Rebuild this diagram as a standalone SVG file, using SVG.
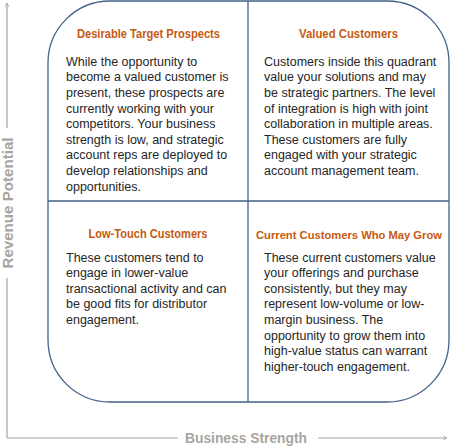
<svg xmlns="http://www.w3.org/2000/svg" width="450" height="446" viewBox="0 0 450 446">
<style>
.frame{fill:#ffffff;stroke:#44618a;stroke-width:1.3}
.div{stroke:#44618a;stroke-width:1.3;fill:none}
.title{font-family:"Liberation Sans",Arial,sans-serif;font-weight:bold;font-size:12px;fill:#c55a11;text-anchor:middle}
.body{font-family:"Liberation Sans",Arial,sans-serif;font-size:12.5px;fill:#262626}
.axis{stroke:#a9a49e;stroke-width:1.2;fill:none}
.axlabel{font-family:"Liberation Sans",Arial,sans-serif;font-weight:bold;font-size:14px;fill:#a9a49e;text-anchor:middle}
</style>
<defs>
<marker id="arr" viewBox="0 0 10 10" refX="9" refY="5" markerWidth="5" markerHeight="5" orient="auto" markerUnits="userSpaceOnUse">
<polyline points="1,1 9,5 1,9" fill="none" stroke="#a9a49e" stroke-width="1.5"/>
</marker>
</defs>
<g id="axes">
<line class="axis" x1="7" y1="438" x2="7" y2="278"/>
<line class="axis" x1="7" y1="128" x2="7" y2="3" marker-end="url(#arr)"/>
<line class="axis" x1="7" y1="438" x2="178" y2="438"/>
<line class="axis" x1="318" y1="438" x2="447" y2="438" marker-end="url(#arr)"/>
<text class="axlabel" x="246" y="443" textLength="122" lengthAdjust="spacingAndGlyphs">Business Strength</text>
<text class="axlabel" transform="translate(12.5,203) rotate(-90)" x="0" y="0" textLength="131" lengthAdjust="spacingAndGlyphs">Revenue Potential</text>
</g>
<g id="frame">
<path class="frame" d="M110,1 H387 A62,62 0 0 1 449,63 V340 A62,62 0 0 1 387,402 H110 A62,62 0 0 1 48,340 V63 A62,62 0 0 1 110,1 Z"/>
<line class="div" x1="248" y1="1" x2="248" y2="402"/>
<line class="div" x1="48" y1="201" x2="449" y2="201"/>
</g>
<g id="q1">
<text class="title" x="148.5" y="37.5" textLength="143" lengthAdjust="spacingAndGlyphs">Desirable Target Prospects</text>
<text class="body" x="66" y="65.7">While the opportunity to</text>
<text class="body" x="66" y="81.3">become a valued customer is</text>
<text class="body" x="66" y="96.9">present, these prospects are</text>
<text class="body" x="66" y="112.5">currently working with your</text>
<text class="body" x="66" y="128.1">competitors. Your business</text>
<text class="body" x="66" y="143.7">strength is low, and strategic</text>
<text class="body" x="66" y="159.3">account reps are deployed to</text>
<text class="body" x="66" y="174.9">develop relationships and</text>
<text class="body" x="66" y="190.5">opportunities.</text>
</g>
<g id="q2">
<text class="title" x="348.5" y="37.5" textLength="99" lengthAdjust="spacingAndGlyphs">Valued Customers</text>
<text class="body" x="264" y="65.7">Customers inside this quadrant</text>
<text class="body" x="264" y="81.3">value your solutions and may</text>
<text class="body" x="264" y="96.9">be strategic partners. The level</text>
<text class="body" x="264" y="112.5">of integration is high with joint</text>
<text class="body" x="264" y="128.1">collaboration in multiple areas.</text>
<text class="body" x="264" y="143.7">These customers are fully</text>
<text class="body" x="264" y="159.3">engaged with your strategic</text>
<text class="body" x="264" y="174.9">account management team.</text>
</g>
<g id="q3">
<text class="title" x="148" y="238" textLength="119" lengthAdjust="spacingAndGlyphs">Low-Touch Customers</text>
<text class="body" x="66" y="261.5">These customers tend to</text>
<text class="body" x="66" y="277.1">engage in lower-value</text>
<text class="body" x="66" y="292.7">transactional activity and can</text>
<text class="body" x="66" y="308.3">be good fits for distributor</text>
<text class="body" x="66" y="323.9">engagement.</text>
</g>
<g id="q4">
<text class="title" x="349" y="238.5" style="font-size:11.3px" textLength="186" lengthAdjust="spacingAndGlyphs">Current Customers Who May Grow</text>
<text class="body" x="264" y="261.5">These current customers value</text>
<text class="body" x="264" y="277.1">your offerings and purchase</text>
<text class="body" x="264" y="292.7">consistently, but they may</text>
<text class="body" x="264" y="308.3">represent low-volume or low-</text>
<text class="body" x="264" y="323.9">margin business. The</text>
<text class="body" x="264" y="339.5">opportunity to grow them into</text>
<text class="body" x="264" y="355.1">high-value status can warrant</text>
<text class="body" x="264" y="370.7">higher-touch engagement.</text>
</g>
</svg>
